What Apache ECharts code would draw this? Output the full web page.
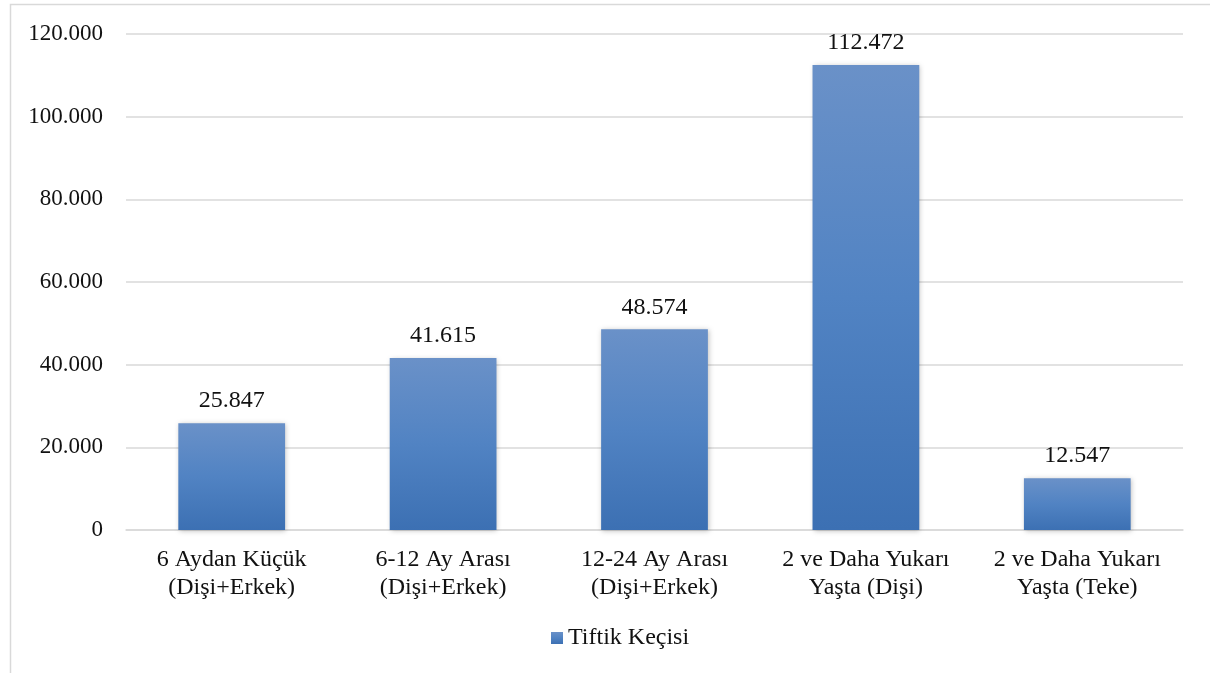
<!DOCTYPE html>
<html><head><meta charset="utf-8">
<script src="https://cdn.jsdelivr.net/npm/echarts@6/dist/echarts.min.js"></script>
<style>html,body{margin:0;padding:0;background:#fff}#c{width:1210px;height:673px}</style>
</head><body><div id="c"></div>
<script>
const categories = ["6 Aydan Küçük\n(Dişi+Erkek)", "6-12 Ay Arası\n(Dişi+Erkek)", "12-24 Ay Arası\n(Dişi+Erkek)", "2 ve Daha Yukarı\nYaşta (Dişi)", "2 ve Daha Yukarı\nYaşta (Teke)"];
const values = [25847, 41615, 48574, 112472, 12547];
const seriesName = "Tiftik Keçisi";
const fmt = v => String(v).replace(/\B(?=(\d{3})+(?!\d))/g, ".");
const font = '"Liberation Serif"';
const txt = '#111';
const chart = echarts.init(document.getElementById('c'));
const grad = new echarts.graphic.LinearGradient(0,0,0,1,[{offset:0,color:'#6a91c8'},{offset:0.5,color:'#5183c3'},{offset:1,color:'#3c70b3'}]);
chart.setOption({
  animation:false,
  textStyle:{fontFamily:font},
  graphic:[{type:'rect',shape:{x:10.5,y:4.5,width:1300,height:1000},style:{fill:'none',stroke:'#d9d9d9',lineWidth:1.5},silent:true,z:-1}],
  grid:{left:126,right:27,top:34,bottom:143,containLabel:false},
  legend:{bottom:18,left:546,itemWidth:12,itemHeight:12,itemGap:6,icon:'rect',
    textStyle:{fontFamily:font,fontSize:24,color:txt},data:[{name:seriesName,itemStyle:{color:grad}}]},
  xAxis:{type:'category',data:categories,axisTick:{show:false},
    axisLine:{lineStyle:{color:'#d9d9d9',width:1.5}},
    axisLabel:{fontFamily:font,fontSize:24,color:txt,lineHeight:28,margin:16,interval:0}},
  yAxis:{type:'value',min:0,max:120000,interval:20000,
    axisLine:{show:false},axisTick:{show:false},
    splitLine:{lineStyle:{color:'#d9d9d9',width:1.5}},
    axisLabel:{fontFamily:font,fontSize:23,color:txt,margin:23,formatter:v=>fmt(v)}},
  series:[{name:seriesName,type:'bar',data:values,barWidth:'50.5%',
    itemStyle:{color:grad,shadowColor:'rgba(0,0,0,0.25)',shadowBlur:5,shadowOffsetX:1,shadowOffsetY:1},
    label:{show:true,position:'top',distance:10,fontFamily:font,fontSize:24,color:txt,formatter:p=>fmt(p.value)}}]
});
</script></body></html>
